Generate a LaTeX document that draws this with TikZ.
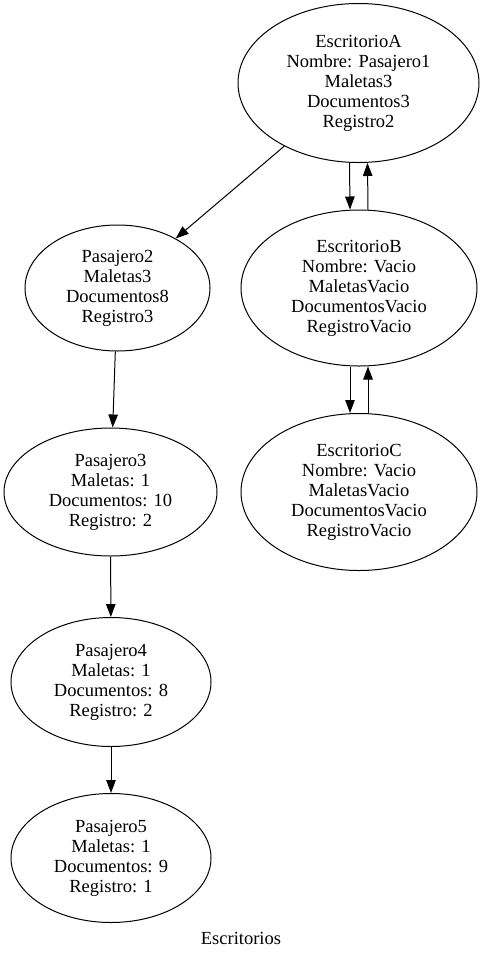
\documentclass[tikz,border=0pt]{standalone}
\usepackage{fontspec}
\setmainfont{Liberation Serif}
\usetikzlibrary{arrows.meta,shapes.geometric}

\begin{document}
\begin{tikzpicture}[x=1pt, y=-1pt, line width=1pt, >={Triangle[length=13pt,width=9.5pt]},
    nodo/.style={ellipse, draw, inner sep=0pt, align=center, font=\fontsize{18.5}{20}\selectfont}]
\useasboundingbox (0,0) rectangle (484,959);
    % Escritorios, right column.
    \node[nodo, minimum width=241pt, minimum height=159pt] (escA) at (358.5,83) {EscritorioA\\Nombre: Pasajero1\\Maletas3\\Documentos3\\Registro2};
    \node[nodo, minimum width=236pt, minimum height=156pt] (escB) at (359,288) {EscritorioB\\Nombre: Vacio\\MaletasVacio\\DocumentosVacio\\RegistroVacio};
    \node[nodo, minimum width=236pt, minimum height=157pt] (escC) at (359,492) {EscritorioC\\Nombre: Vacio\\MaletasVacio\\DocumentosVacio\\RegistroVacio};
    % Pasajeros, left column.
    \node[nodo, minimum width=185pt, minimum height=126pt] (pas2) at (117.5,288) {Pasajero2\\Maletas3\\Documentos8\\Registro3};
    \node[nodo, minimum width=213pt, minimum height=128pt] (pas3) at (110.5,492) {Pasajero3\\Maletas: 1\\Documentos: 10\\Registro: 2};
    \node[nodo, minimum width=200pt, minimum height=129pt] (pas4) at (111,682) {Pasajero4\\Maletas: 1\\Documentos: 8\\Registro: 2};
    \node[nodo, minimum width=200pt, minimum height=129pt] (pas5) at (111,858) {Pasajero5\\Maletas: 1\\Documentos: 9\\Registro: 1};
    \node[font=\fontsize{18.5}{20}\selectfont] (titulo) at (241,938) {Escritorios};
    % Edges.
    \draw[->] (escA) -- (pas2);
    \draw[->] ([xshift=-9pt]escA.south) -- ([xshift=-9pt]escB.north);
    \draw[->] ([xshift=9pt]escB.north) -- ([xshift=9pt]escA.south);
    \draw[->] ([xshift=-9pt]escB.south) -- ([xshift=-9pt]escC.north);
    \draw[->] ([xshift=9pt]escC.north) -- ([xshift=9pt]escB.south);
    \draw[->] (pas2) -- (pas3);
    \draw[->] (pas3) -- (pas4);
    \draw[->] (pas4) -- (pas5);
\end{tikzpicture}
\end{document}
